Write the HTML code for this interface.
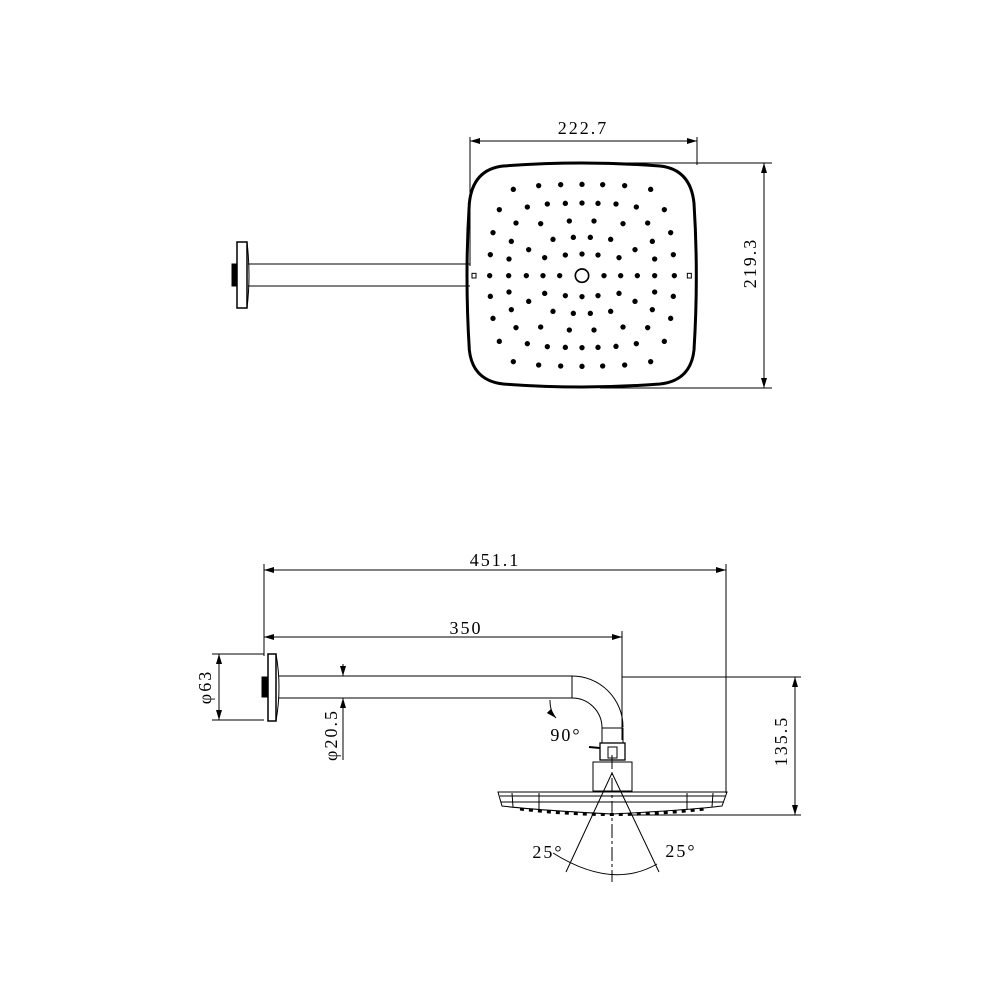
<!DOCTYPE html>
<html><head><style>html,body{margin:0;padding:0;background:#fff}svg{display:block}text{font-family:"Liberation Serif",serif;font-size:18px;fill:#000;letter-spacing:2px}</style></head>
<body>
<svg width="1000" height="1000" viewBox="0 0 1000 1000" xmlns="http://www.w3.org/2000/svg">
<defs><marker id="a" viewBox="0 0 10 6" refX="10" refY="3" markerWidth="10" markerHeight="6" orient="auto-start-reverse" markerUnits="userSpaceOnUse"><path d="M0,0 L10,3 L0,6 Z" fill="#000"/></marker></defs>
<g stroke="#000" fill="none" stroke-width="1">
<line x1="470" y1="137" x2="470" y2="266"/>
<line x1="697" y1="137" x2="697" y2="165"/>
<line x1="470" y1="141" x2="697" y2="141" marker-start="url(#a)" marker-end="url(#a)"/>
<line x1="600" y1="163" x2="772" y2="163"/>
<line x1="600" y1="388" x2="772" y2="388"/>
<line x1="764" y1="163" x2="764" y2="388" marker-start="url(#a)" marker-end="url(#a)"/>
<rect x="237" y="242" width="10" height="66" stroke-width="1.5"/>
<path d="M247,242 Q251,275 247,308" />
<rect x="232" y="264" width="5" height="22" fill="#000"/>
<line x1="248" y1="264" x2="470" y2="264"/>
<line x1="248" y1="286" x2="470" y2="286"/>
</g>
<g transform="translate(460,150) scale(0.33333)">
<path d="M130,48 Q366,30 600,48 Q692,58 702,160 Q716,377 702,600 Q692,692 600,702 Q366,720 130,702 Q38,692 28,600 Q14,377 28,160 Q38,58 130,48 Z" fill="none" stroke="#000" stroke-width="9"/>
<rect x="36" y="370" width="12" height="14" fill="#fff" stroke="#000" stroke-width="3"/>
<rect x="682" y="370" width="12" height="14" fill="#fff" stroke="#000" stroke-width="3"/>
<circle cx="366" cy="377" r="20" fill="none" stroke="#000" stroke-width="5"/>
<g fill="#000">
<circle cx="160" cy="118" r="8"/><circle cx="236" cy="107" r="8"/><circle cx="302" cy="104" r="8"/><circle cx="366" cy="103" r="8"/><circle cx="428" cy="104" r="8"/><circle cx="494" cy="107" r="8"/><circle cx="572" cy="118" r="8"/>
<circle cx="118" cy="179" r="8"/><circle cx="202" cy="171" r="8"/><circle cx="262" cy="162" r="8"/><circle cx="316" cy="160" r="8"/><circle cx="366" cy="159" r="8"/><circle cx="414" cy="160" r="8"/><circle cx="468" cy="162" r="8"/><circle cx="529" cy="171" r="8"/><circle cx="613" cy="179" r="8"/>
<circle cx="168" cy="219" r="8"/><circle cx="242" cy="221" r="8"/><circle cx="328" cy="213" r="8"/><circle cx="402" cy="213" r="8"/><circle cx="489" cy="221" r="8"/><circle cx="563" cy="219" r="8"/>
<circle cx="99" cy="248" r="8"/><circle cx="154" cy="274" r="8"/><circle cx="279" cy="268" r="8"/><circle cx="340" cy="262" r="8"/><circle cx="391" cy="262" r="8"/><circle cx="452" cy="268" r="8"/><circle cx="577" cy="274" r="8"/><circle cx="632" cy="248" r="8"/>
<circle cx="206" cy="299" r="8"/><circle cx="525" cy="299" r="8"/>
<circle cx="91" cy="314" r="8"/><circle cx="147" cy="327" r="8"/><circle cx="254" cy="323" r="8"/><circle cx="316" cy="315" r="8"/><circle cx="366" cy="312" r="8"/><circle cx="414" cy="315" r="8"/><circle cx="477" cy="323" r="8"/><circle cx="584" cy="327" r="8"/><circle cx="640" cy="314" r="8"/>
<circle cx="89" cy="377" r="8"/><circle cx="146" cy="377" r="8"/><circle cx="199" cy="377" r="8"/><circle cx="249" cy="377" r="8"/><circle cx="299" cy="377" r="8"/><circle cx="432" cy="377" r="8"/><circle cx="482" cy="377" r="8"/><circle cx="532" cy="377" r="8"/><circle cx="584" cy="377" r="8"/><circle cx="643" cy="377" r="8"/>
<circle cx="91" cy="439" r="8"/><circle cx="147" cy="426" r="8"/><circle cx="254" cy="430" r="8"/><circle cx="316" cy="437" r="8"/><circle cx="366" cy="440" r="8"/><circle cx="414" cy="437" r="8"/><circle cx="477" cy="430" r="8"/><circle cx="584" cy="426" r="8"/><circle cx="640" cy="439" r="8"/>
<circle cx="206" cy="454" r="8"/><circle cx="525" cy="454" r="8"/>
<circle cx="154" cy="479" r="8"/><circle cx="279" cy="484" r="8"/><circle cx="340" cy="490" r="8"/><circle cx="391" cy="490" r="8"/><circle cx="452" cy="484" r="8"/><circle cx="577" cy="479" r="8"/>
<circle cx="99" cy="505" r="8"/><circle cx="632" cy="505" r="8"/>
<circle cx="168" cy="533" r="8"/><circle cx="242" cy="531" r="8"/><circle cx="328" cy="540" r="8"/><circle cx="402" cy="540" r="8"/><circle cx="489" cy="531" r="8"/><circle cx="563" cy="533" r="8"/>
<circle cx="118" cy="574" r="8"/><circle cx="202" cy="581" r="8"/><circle cx="262" cy="590" r="8"/><circle cx="316" cy="592" r="8"/><circle cx="366" cy="593" r="8"/><circle cx="414" cy="592" r="8"/><circle cx="468" cy="589" r="8"/><circle cx="529" cy="581" r="8"/><circle cx="613" cy="574" r="8"/>
<circle cx="160" cy="635" r="8"/><circle cx="236" cy="645" r="8"/><circle cx="302" cy="648" r="8"/><circle cx="366" cy="649" r="8"/><circle cx="428" cy="648" r="8"/><circle cx="494" cy="645" r="8"/><circle cx="572" cy="635" r="8"/>
</g></g>
<text x="583" y="134" text-anchor="middle">222.7</text>
<text transform="translate(756,263) rotate(-90)" text-anchor="middle">219.3</text>

<g stroke="#000" fill="none" stroke-width="1">
<line x1="264" y1="564" x2="264" y2="656"/>
<line x1="726" y1="564" x2="726" y2="793"/>
<line x1="264" y1="570" x2="726" y2="570" marker-start="url(#a)" marker-end="url(#a)"/>
<line x1="622" y1="631" x2="622" y2="740"/>
<line x1="264" y1="637" x2="622" y2="637" marker-start="url(#a)" marker-end="url(#a)"/>
<line x1="622" y1="677" x2="801" y2="677"/>
<line x1="630" y1="815" x2="801" y2="815"/>
<line x1="795" y1="677" x2="795" y2="815" marker-start="url(#a)" marker-end="url(#a)"/>
<line x1="212" y1="654" x2="264" y2="654"/>
<line x1="212" y1="720" x2="264" y2="720"/>
<line x1="219" y1="654" x2="219" y2="720" marker-start="url(#a)" marker-end="url(#a)"/>
<line x1="343" y1="664" x2="343" y2="676" marker-end="url(#a)"/>
<line x1="343" y1="760" x2="343" y2="698" marker-end="url(#a)"/>
<rect x="268" y="654" width="8" height="67" stroke-width="1.5"/>
<path d="M276,654 Q282,687 276,721"/>
<rect x="262" y="677" width="6" height="20" fill="#000"/>
<line x1="279" y1="676" x2="572" y2="676"/>
<line x1="279" y1="698" x2="572" y2="698"/>
<line x1="572" y1="676" x2="572" y2="698"/>
<path d="M572,676 A51,51 0 0 1 623,727"/>
<path d="M572,698 A30,30 0 0 1 602,728"/>
<rect x="602" y="728" width="21" height="15"/>
<rect x="600" y="743" width="25" height="17" stroke-width="1.3"/>
<rect x="608" y="747" width="9" height="11"/>
<line x1="589" y1="747" x2="600" y2="748" stroke-width="2"/>
<rect x="593" y="762" width="39" height="29"/>
<path d="M498,792 L727,792 L722,806 Q690,810 612,814 Q535,810 502,806 Z"/>
<line x1="500" y1="796" x2="725" y2="796"/>
<line x1="501" y1="802" x2="724" y2="802"/>
<line x1="512" y1="793" x2="513" y2="807"/>
<line x1="539" y1="793" x2="539" y2="810"/>
<line x1="687" y1="793" x2="687" y2="810"/>
<line x1="713" y1="793" x2="712" y2="807"/>
<path d="M520,809 Q612,820 705,809" stroke-width="3" stroke-dasharray="4,5"/>
<line x1="612" y1="755" x2="612" y2="882" stroke-dasharray="14,3,3,3"/>
<line x1="612" y1="773" x2="566" y2="872"/>
<line x1="612" y1="773" x2="659" y2="872"/>
<path d="M553,853 Q612,890 657,864"/>
<path d="M550,700 Q550,712 556,718" marker-end="url(#a)"/>
</g>
<text x="495" y="566" text-anchor="middle">451.1</text>
<text x="466" y="634" text-anchor="middle">350</text>
<text transform="translate(787,741) rotate(-90)" text-anchor="middle">135.5</text>
<text transform="translate(211,687) rotate(-90)" text-anchor="middle">φ63</text>
<text transform="translate(337,735) rotate(-90)" text-anchor="middle">φ20.5</text>
<text x="566" y="741" text-anchor="middle">90°</text>
<text x="548" y="858" text-anchor="middle">25°</text>
<text x="681" y="857" text-anchor="middle">25°</text>
</svg>
</body></html>
